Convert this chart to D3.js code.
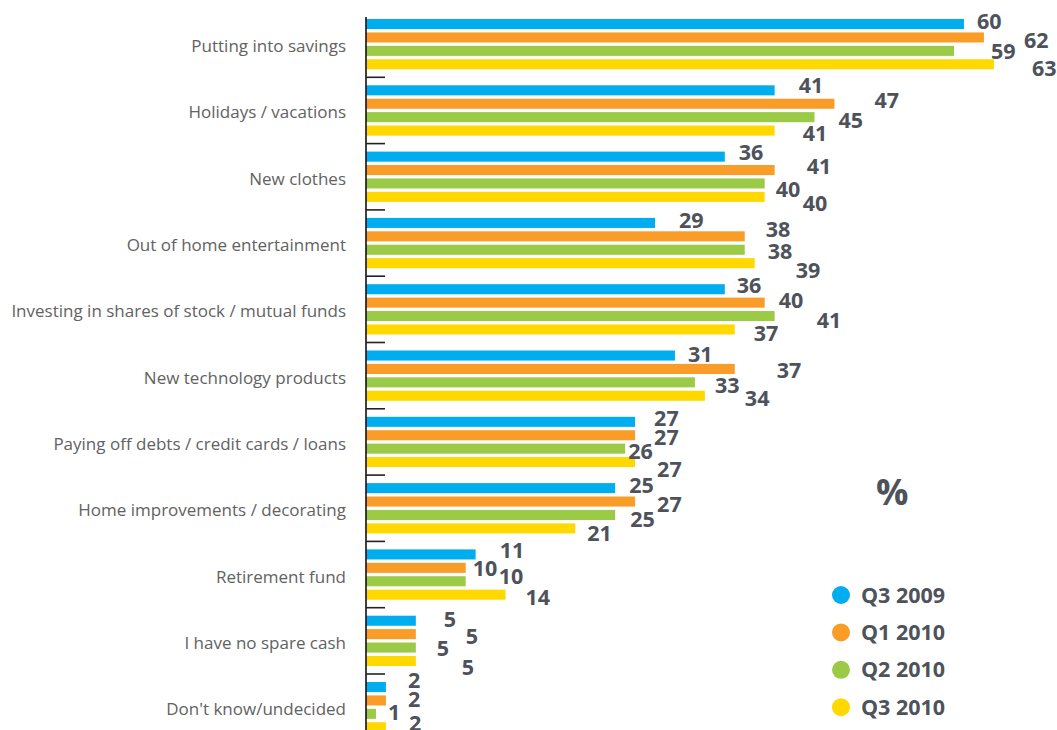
<!DOCTYPE html>
<html>
<head>
<meta charset="utf-8">
<script src="https://cdn.jsdelivr.net/npm/d3@7"></script>
<style>
  html, body { margin: 0; padding: 0; background: #ffffff; }
  svg { display: block; }
</style>
</head>
<body>
<svg id="chart" width="1057" height="730"></svg>
<script>
// Spending intentions, share of respondents (%)
const categories = [
  "Putting into savings",
  "Holidays / vacations",
  "New clothes",
  "Out of home entertainment",
  "Investing in shares of stock / mutual funds",
  "New technology products",
  "Paying off debts / credit cards / loans",
  "Home improvements / decorating",
  "Retirement fund",
  "I have no spare cash",
  "Don't know/undecided"
];
const seriesNames = ["Q3 2009", "Q1 2010", "Q2 2010", "Q3 2010"];
const q3_2009 = [60, 41, 36, 29, 36, 31, 27, 25, 11, 5, 2];
const q1_2010 = [62, 47, 41, 38, 40, 37, 27, 27, 10, 5, 2];
const q2_2010 = [59, 45, 40, 38, 41, 33, 26, 25, 10, 5, 1];
const q3_2010 = [63, 41, 40, 39, 37, 34, 27, 21, 14, 5, 2];
const seriesValues = [q3_2009, q1_2010, q2_2010, q3_2010];
const seriesColors = ["#00adee", "#f99c28", "#9bca47", "#ffd800"];

// Value labels are staggered off the bar ends (horizontal gap, vertical shift in px)
const labelGapX = [
  [13, 24, 14, 24, 12, 13, 19, 14, 24, 28, 22],
  [40, 40, 32, 21, 14, 42, 19, 22, 7, 50, 22],
  [37, 24, 11, 23, 42, 20, 3, 15, 33, 21, 12],
  [38, 28, 38, 41, 19, 40, 22, 12, 20, 46, 23]
];
const labelShiftY = [
  [-3, -5, -4, -3, -4, -1, -4, -3, -4, -1, -7],
  [3, -3, -4, -7, -2, 1, 2, 3, 0, 2, -1],
  [0, 3, 6, 2, 4, 3, 3, 4, -5, 1, -2],
  [4, 3, 6, 7, 4, 3, 7, 5, 3, 6, -4]
];

const svg = d3.select("#chart");
const axisX = 366;

const x = d3.scaleLinear().domain([0, 60]).range([axisX, 964]);
const y = d3.scaleBand().domain(categories).range([11, 11 + 66.3 * categories.length]).padding(0);
const ySub = d3.scaleBand().domain(seriesNames).range([8, 58.3]).paddingInner(0.25).paddingOuter(0);

const rows = categories.flatMap((c, i) =>
  seriesNames.map((s, j) => ({ cat: c, ci: i, series: s, si: j, value: seriesValues[j][i] }))
);

// Bars
svg.append("g").selectAll("rect")
  .data(rows)
  .join("rect")
  .attr("x", axisX)
  .attr("y", d => y(d.cat) + ySub(d.series))
  .attr("width", d => x(d.value) - axisX)
  .attr("height", ySub.bandwidth())
  .attr("fill", d => seriesColors[d.si]);

// Vertical axis line and the separators between category groups
svg.append("line")
  .attr("x1", axisX).attr("x2", axisX)
  .attr("y1", y(categories[0]) + 6).attr("y2", 730)
  .attr("stroke", "#111").attr("stroke-width", 1.6);

svg.append("g").selectAll("line")
  .data(categories.slice(1))
  .join("line")
  .attr("x1", axisX).attr("x2", axisX + 19)
  .attr("y1", d => y(d)).attr("y2", d => y(d))
  .attr("stroke", "#222").attr("stroke-width", 1.6);

// Category labels
svg.append("g").selectAll("text")
  .data(categories)
  .join("text")
  .attr("x", 346)
  .attr("y", d => y(d) + y.bandwidth() / 2 + 8)
  .attr("text-anchor", "end")
  .attr("font-family", "'Open Sans', sans-serif")
  .attr("font-size", 17)
  .attr("fill", "#626262")
  .text(d => d);

// Value labels
svg.append("g").selectAll("text")
  .data(rows)
  .join("text")
  .attr("x", d => x(d.value) + labelGapX[d.si][d.ci])
  .attr("y", d => y(d.cat) + ySub(d.series) + ySub.bandwidth() / 2 + labelShiftY[d.si][d.ci] + 7.7)
  .attr("font-family", "'Open Sans', sans-serif")
  .attr("font-weight", 700)
  .attr("font-size", 21.5)
  .attr("fill", "#4e525b")
  .text(d => d.value);

// Unit marker
svg.append("text")
  .attr("x", 876).attr("y", 505)
  .attr("font-family", "'Open Sans', sans-serif")
  .attr("font-weight", 700)
  .attr("font-size", 36)
  .attr("fill", "#4e525b")
  .text("%");

// Legend
const legend = svg.append("g").selectAll("g")
  .data(seriesNames)
  .join("g")
  .attr("transform", (d, i) => `translate(841, ${595 + i * 37.4})`);
legend.append("circle")
  .attr("r", 9)
  .attr("fill", (d, i) => seriesColors[i]);
legend.append("text")
  .attr("x", 20).attr("y", 7.5)
  .attr("font-family", "'Open Sans', sans-serif")
  .attr("font-weight", 700)
  .attr("font-size", 21.5)
  .attr("fill", "#4e525b")
  .text(d => d);
</script>
</body>
</html>
